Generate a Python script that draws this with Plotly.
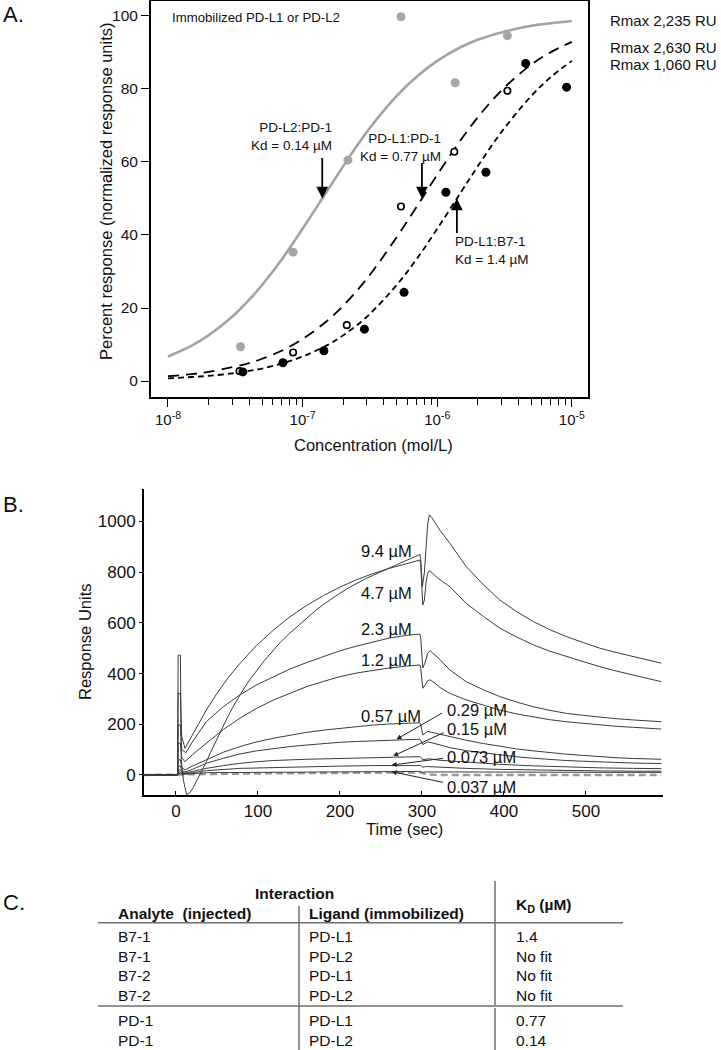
import math
import plotly.graph_objects as go

W, H = 721, 1050
FONT = "Liberation Sans, Arial, Helvetica, sans-serif"
INK = "#111111"

# ---------------- Panel A data ----------------
curve_conc = [1e-8, 1.5e-8, 2e-8, 3e-8, 4e-8, 5e-8, 7e-8, 1e-7, 1.5e-7, 2e-7, 3e-7, 5e-7, 7e-7,
              1e-6, 1.5e-6, 2e-6, 3e-6, 5e-6, 7e-6, 1e-5]
fit_pdl2_pd1 = [6.7, 9.7, 12.5, 17.6, 22.2, 26.3, 33.3, 41.7, 51.7, 58.8, 68.2, 78.1, 83.3,
                87.7, 91.5, 93.5, 95.5, 97.3, 98.0, 98.6]
fit_pdl1_pd1 = [1.3, 1.9, 2.5, 3.8, 4.9, 6.1, 8.3, 11.5, 16.3, 20.6, 28.0, 39.4, 47.6,
                56.5, 66.1, 72.2, 79.6, 86.7, 90.1, 92.9]
fit_pdl1_b71 = [0.7, 1.1, 1.4, 2.1, 2.8, 3.4, 4.8, 6.7, 9.7, 12.5, 17.6, 26.3, 33.3,
                41.7, 51.7, 58.8, 68.2, 78.1, 83.3, 87.7]

pdl2_pd1_conc = [3.46e-8, 8.5e-8, 2.17e-7, 5.38e-7, 1.36e-6, 3.32e-6]
pdl2_pd1_resp = [9.4, 35.3, 60.5, 99.8, 81.7, 94.6]
pdl1_pd1_conc = [3.4e-8, 8.5e-8, 2.13e-7, 5.38e-7, 1.34e-6, 3.32e-6]
pdl1_pd1_resp = [2.7, 7.8, 15.3, 47.8, 62.8, 79.5]
pdl1_b71_conc = [3.6e-8, 7.15e-8, 1.44e-7, 2.88e-7, 5.67e-7, 1.16e-6, 2.3e-6, 4.54e-6, 9.14e-6]
pdl1_b71_resp = [2.5, 5.0, 8.3, 14.2, 24.3, 51.7, 57.2, 87.0, 80.5]

kd_names = ["PD-L2:PD-1", "PD-L1:PD-1", "PD-L1:B7-1"]
kd_um = [0.14, 0.77, 1.4]
rmax_labels = ["Rmax 2,235 RU", "Rmax 2,630 RU", "Rmax 1,060 RU"]
x_tick_vals = [1e-8, 1e-7, 1e-6, 1e-5]
x_tick_text = ["10<sup>-8</sup>", "10<sup>-7</sup>", "10<sup>-6</sup>", "10<sup>-5</sup>"]
y_tick_vals_a = [0, 20, 40, 60, 80, 100]

# ---------------- Panel B data (sensorgrams) ----------------
t_94 = [-39, 2, 2.6, 5.4, 6.5, 9, 13, 17, 21, 25, 29, 33, 37, 42, 47, 52, 58, 64, 70, 77, 84,
        91, 98, 108, 118, 128, 139, 150, 160, 170, 180, 190, 200, 210, 220, 230, 240, 250, 259,
        270, 280, 290, 297.5, 298.5, 300.5, 303, 305, 307, 309, 312, 316,
        322, 334, 354, 375, 395, 415, 436, 456, 476, 497, 517, 537, 558, 575, 592]
ru_94 = [0, 0, 473, 473, 60, -20, -78, -70, -50, -25, 2, 28, 52, 88, 122, 158, 197, 235, 271,
         310, 347, 380, 411, 452, 489, 526, 560, 592, 621, 648, 673, 696, 717, 737, 755, 772,
         787, 801, 814, 830, 845, 859, 870, 850, 743, 800, 900, 990, 1026, 1015, 995,
         965, 914, 822, 750, 690, 645, 605, 573, 546, 522, 500, 483, 467, 452, 441]

t_47 = [-39, 2, 2.6, 5.4, 7, 11, 17, 24, 37, 50, 64, 78, 98, 119, 139, 159, 180, 200, 220,
        241, 259, 280, 297.5, 298.5, 301, 303, 305, 307, 309, 313, 320, 334, 354, 375, 395,
        415, 436, 456, 476, 497, 517, 537, 558, 575, 592]
ru_47 = [0, 0, 322, 322, 150, 105, 140, 180, 256, 322, 385, 440, 510, 572, 624, 668, 708, 741, 770,
         795, 814, 832, 848, 830, 670, 690, 760, 795, 806, 795, 775, 743, 677, 625, 579,
         545, 513, 488, 467, 446, 427, 410, 394, 380, 368]

t_23 = [-39, 2, 2.6, 5.4, 7, 12, 20, 37, 58, 78, 98, 119, 139, 159, 180, 200, 220, 241, 260,
        280, 297.5, 298.5, 301, 304, 307, 310, 315, 322, 334, 354, 375, 395, 415, 436, 456,
        476, 497, 517, 537, 558, 575, 592]
ru_23 = [0, 0, 197, 197, 100, 88, 130, 210, 270, 316, 355, 388, 418, 443, 468, 490, 508, 526, 540,
         550, 556, 540, 422, 445, 480, 490, 475, 455, 414, 368, 336, 309, 288, 269, 255,
         243, 235, 228, 222, 217, 213, 210]

t_12 = [-39, 2, 2.6, 5.4, 7, 11, 20, 37, 58, 78, 98, 119, 139, 159, 180, 200, 220, 241, 260,
        280, 297.5, 298.5, 301, 304, 307, 310, 316, 322, 334, 354, 375, 395, 415, 436, 456,
        476, 497, 517, 537, 558, 575, 592]
ru_12 = [0, 0, 125, 125, 70, 52, 80, 125, 180, 224, 262, 296, 323, 348, 369, 388, 402, 414, 422,
         429, 434, 420, 342, 355, 372, 375, 362, 345, 322, 296, 274, 256, 241, 228, 218,
         210, 203, 197, 192, 188, 184, 181]

t_057 = [-39, 2, 2.6, 5.4, 7, 11, 20, 37, 58, 78, 98, 119, 139, 159, 180, 200, 220, 241, 260,
         280, 297.5, 298.5, 301, 304, 307, 312, 322, 334, 354, 375, 395, 415, 436, 456, 476,
         497, 517, 537, 558, 575, 592]
ru_057 = [0, 0, 60, 60, 30, 20, 35, 59, 90, 112, 130, 145, 158, 168, 177, 184, 190, 197, 201,
          204, 206, 200, 158, 165, 172, 168, 160, 151, 137, 124, 112, 103, 95, 88, 82,
          77, 72, 68, 65, 63, 62]

t_029 = [-39, 2, 2.6, 5.4, 7, 11, 20, 37, 58, 78, 98, 119, 139, 159, 180, 200, 220, 241, 260,
         280, 297.5, 298.5, 301, 304, 307, 312, 322, 334, 354, 375, 395, 415, 436, 456, 476,
         497, 517, 537, 558, 575, 592]
ru_029 = [0, 0, 35, 35, 18, 12, 22, 46, 66, 83, 95, 105, 112, 118, 124, 129, 132, 135, 138,
          140, 141, 137, 120, 125, 130, 127, 118, 108, 96, 87, 79, 72, 66, 61, 57,
          54, 51, 49, 47, 46, 45]

t_015 = [-39, 2, 2.6, 5.4, 7, 11, 20, 37, 58, 78, 98, 119, 159, 200, 241, 280, 297.5, 298.5,
         301, 304, 308, 322, 354, 395, 436, 476, 517, 558, 592]
ru_015 = [0, 0, 20, 20, 10, 8, 14, 26, 37, 46, 52, 57, 62, 66, 69, 71, 72, 70,
          60, 63, 64, 58, 50, 42, 36, 31, 28, 26, 25]

t_0073 = [-39, 2, 2.6, 5.4, 7, 11, 20, 37, 78, 119, 159, 200, 241, 280, 297.5, 298.5, 301, 304,
          308, 322, 354, 395, 436, 476, 517, 558, 592]
ru_0073 = [0, 0, 12, 12, 6, 5, 9, 17, 26, 30, 33, 35, 37, 38, 39, 37, 30, 33,
           33, 30, 26, 22, 19, 17, 16, 15, 15]

t_0037 = [-39, 2, 2.6, 5.4, 7, 11, 37, 119, 200, 280, 297.5, 298.5, 301, 304, 322, 395, 476, 558, 592]
ru_0037 = [0, 0, 6, 6, 3, 3, 9, 11, 13, 15, 16, 14, 10, 12, 12, 11, 10, 10, 10]

t_ctrl = [-39, 5, 20, 100, 200, 280, 297, 301, 307, 320, 400, 500, 592]
ru_ctrl = [0, 2, 4, 6, 8, 9, 10, 7, 2, 0, 0, 0, 0]

conc_labels = ["9.4 µM", "4.7 µM", "2.3 µM", "1.2 µM", "0.57 µM",
               "0.29 µM", "0.15 µM", "0.073 µM", "0.037 µM"]
x_ticks_b = [0, 100, 200, 300, 400, 500]
y_ticks_b = [0, 200, 400, 600, 800, 1000]

# ---------------- Panel C table ----------------
table_analyte = ["B7-1", "B7-1", "B7-2", "B7-2", "PD-1", "PD-1"]
table_ligand = ["PD-L1", "PD-L2", "PD-L1", "PD-L2", "PD-L1", "PD-L2"]
table_kd = ["1.4", "No fit", "No fit", "No fit", "0.77", "0.14"]


def pxx(x):
    return x / W


def pxy(y):
    return 1 - y / H


fig = go.Figure()

# Panel A traces
fig.add_trace(go.Scatter(x=curve_conc, y=fit_pdl2_pd1, mode="lines", line_shape="spline",
                         line=dict(color="#a3a3a3", width=2.6), xaxis="x", yaxis="y"))
fig.add_trace(go.Scatter(x=curve_conc, y=fit_pdl1_pd1, mode="lines", line_shape="spline",
                         line=dict(color="black", width=1.8, dash="11px,7px"), xaxis="x", yaxis="y"))
fig.add_trace(go.Scatter(x=curve_conc, y=fit_pdl1_b71, mode="lines", line_shape="spline",
                         line=dict(color="black", width=1.8, dash="6px,4px"), xaxis="x", yaxis="y"))
fig.add_trace(go.Scatter(x=pdl2_pd1_conc, y=pdl2_pd1_resp, mode="markers",
                         marker=dict(color="#a6a6a6", size=9), xaxis="x", yaxis="y"))
fig.add_trace(go.Scatter(x=pdl1_pd1_conc, y=pdl1_pd1_resp, mode="markers",
                         marker=dict(color="white", size=6.5, line=dict(color="black", width=1.6)),
                         xaxis="x", yaxis="y"))
fig.add_trace(go.Scatter(x=pdl1_b71_conc, y=pdl1_b71_resp, mode="markers",
                         marker=dict(color="black", size=9), xaxis="x", yaxis="y"))

# Panel B traces
series_b = [(t_94, ru_94), (t_47, ru_47), (t_23, ru_23), (t_12, ru_12), (t_057, ru_057),
            (t_029, ru_029), (t_015, ru_015), (t_0073, ru_0073), (t_0037, ru_0037)]
fig.add_trace(go.Scatter(x=t_ctrl, y=ru_ctrl, mode="lines",
                         line=dict(color="#9a9a9a", width=2.4, dash="7px,4px"),
                         xaxis="x2", yaxis="y2"))
for tt, rr in series_b:
    fig.add_trace(go.Scatter(x=tt, y=rr, mode="lines", line=dict(color="#3c3c3c", width=1),
                             xaxis="x2", yaxis="y2"))

ann = []
shapes = []

# Panel letters
for letter, yy in [("A.", 15), ("B.", 504), ("C.", 902)]:
    ann.append(dict(text=letter, x=pxx(1), y=pxy(yy), xref="paper", yref="paper",
                    xanchor="left", yanchor="middle", showarrow=False,
                    font=dict(size=22, color=INK, family=FONT)))

# Panel A texts
ann.append(dict(text="Immobilized PD-L1 or PD-L2", x=pxx(170), y=pxy(17), xref="paper", yref="paper",
                xanchor="left", yanchor="middle", showarrow=False,
                font=dict(size=13.2, color=INK, family=FONT)))
label_pos = [(334, 137, "right"), (443, 147, "right"), (453, 250, "left")]
tails = [-42, -37, 36]
for name, kd, (lx, ly, anc), tail in zip(kd_names, kd_um, label_pos, tails):
    ann.append(dict(text=f"{name}<br>Kd = {kd} µM", x=pxx(lx), y=pxy(ly), xref="paper", yref="paper",
                    xanchor=anc, yanchor="middle", align=anc, showarrow=False,
                    font=dict(size=13.5, color=INK, family=FONT)))
    ann.append(dict(text="", x=math.log10(kd * 1e-6), y=50, xref="x", yref="y",
                    showarrow=True, ax=0, ay=tail, arrowhead=2, arrowsize=1.3,
                    arrowwidth=1.8, arrowcolor="black", standoff=0))
for lab, yy in zip(rmax_labels, [20, 47, 64]):
    ann.append(dict(text=lab, x=pxx(608), y=pxy(yy), xref="paper", yref="paper",
                    xanchor="left", yanchor="middle", showarrow=False,
                    font=dict(size=15, color=INK, family=FONT)))
ann.append(dict(text="Concentration (mol/L)", x=pxx(373), y=pxy(445), xref="paper", yref="paper",
                xanchor="center", yanchor="middle", showarrow=False,
                font=dict(size=16.5, color=INK, family=FONT)))
ann.append(dict(text="Percent response (normalized response units)", x=pxx(106), y=pxy(191),
                xref="paper", yref="paper", textangle=-90, xanchor="center", yanchor="middle",
                showarrow=False, font=dict(size=16.5, color=INK, family=FONT)))

# Panel B texts
left_labels = [(550.7, 0), (592.7, 1), (629, 2), (660, 3), (715.7, 4)]
for yy, i in left_labels:
    ann.append(dict(text=conc_labels[i], x=pxx(358.6), y=pxy(yy), xref="paper", yref="paper",
                    xanchor="left", yanchor="middle", showarrow=False,
                    font=dict(size=16.5, color=INK, family=FONT)))
right_labels = [(710, 5), (729.3, 6), (757.3, 7), (786.7, 8)]
for yy, i in right_labels:
    ann.append(dict(text=conc_labels[i], x=pxx(445), y=pxy(yy), xref="paper", yref="paper",
                    xanchor="left", yanchor="middle", showarrow=False,
                    font=dict(size=16.5, color=INK, family=FONT)))
arrows_b = [(269, 141, 47, -27), (265, 75, 52, -24), (263, 39, 53, -7), (263, 13, 53, 11)]
for hx, hy, dx, dy in arrows_b:
    ann.append(dict(text="", x=hx, y=hy, xref="x2", yref="y2", showarrow=True,
                    ax=dx, ay=dy, arrowhead=2, arrowsize=1.0, arrowwidth=1,
                    arrowcolor="#222", standoff=0))
ann.append(dict(text="Response Units", x=pxx(85), y=pxy(642), xref="paper", yref="paper",
                textangle=-90, xanchor="center", yanchor="middle", showarrow=False,
                font=dict(size=16.5, color=INK, family=FONT)))
ann.append(dict(text="Time (sec)", x=pxx(404), y=pxy(829), xref="paper", yref="paper",
                xanchor="center", yanchor="middle", showarrow=False,
                font=dict(size=16.5, color=INK, family=FONT)))

# Panel C table
tfont = dict(size=15.5, color=INK, family=FONT)
ann.append(dict(text="<b>Interaction</b>", x=pxx(294), y=pxy(893), xref="paper", yref="paper",
                xanchor="center", yanchor="middle", showarrow=False, font=tfont))
ann.append(dict(text="<b>Analyte\u00a0 (injected)</b>", x=pxx(116), y=pxy(913), xref="paper",
                yref="paper", xanchor="left", yanchor="middle", showarrow=False, font=tfont))
ann.append(dict(text="<b>Ligand (immobilized)</b>", x=pxx(307), y=pxy(913), xref="paper",
                yref="paper", xanchor="left", yanchor="middle", showarrow=False, font=tfont))
ann.append(dict(text="<b>K<sub>D</sub> (µM)</b>", x=pxx(514), y=pxy(905), xref="paper",
                yref="paper", xanchor="left", yanchor="middle", showarrow=False, font=tfont))
row_y = [936, 956, 975.7, 995.7, 1020, 1040.7]
for a, l, k, yy in zip(table_analyte, table_ligand, table_kd, row_y):
    for txt, xx in [(a, 116), (l, 307), (k, 514)]:
        ann.append(dict(text=txt, x=pxx(xx), y=pxy(yy), xref="paper", yref="paper",
                        xanchor="left", yanchor="middle", showarrow=False, font=tfont))

line_style = dict(color="#6e6e6e", width=1.5)
for yy in [922.7, 1006]:
    shapes.append(dict(type="line", xref="paper", yref="paper", x0=pxx(98), x1=pxx(623),
                       y0=pxy(yy), y1=pxy(yy), line=line_style))
shapes.append(dict(type="line", xref="paper", yref="paper", x0=pxx(299), x1=pxx(299),
                   y0=pxy(906), y1=pxy(1050), line=line_style))
shapes.append(dict(type="line", xref="paper", yref="paper", x0=pxx(495), x1=pxx(495),
                   y0=pxy(881), y1=pxy(1005), line=line_style))
shapes.append(dict(type="line", xref="paper", yref="paper", x0=pxx(495), x1=pxx(495),
                   y0=pxy(1008), y1=pxy(1050), line=line_style))

fig.update_layout(
    width=W, height=H, margin=dict(l=0, r=0, t=0, b=0),
    paper_bgcolor="white", plot_bgcolor="white", showlegend=False,
    font=dict(family=FONT, color=INK),
    annotations=ann, shapes=shapes,
    xaxis=dict(domain=[pxx(151), pxx(588)], anchor="y", type="log", range=[-8.126, -4.88],
               tickvals=x_tick_vals, ticktext=x_tick_text, ticks="outside", ticklen=8,
               tickwidth=1.2, tickcolor="black", showline=True, linewidth=2, linecolor="black",
               mirror=True, showgrid=False, zeroline=False,
               tickfont=dict(size=15, color=INK, family=FONT),
               minor=dict(tickvals=[m * 10 ** e for e in (-8, -7, -6) for m in range(2, 10)],
                          ticks="outside", ticklen=6, tickwidth=1.2, tickcolor="black",
                          showgrid=False)),
    yaxis=dict(domain=[pxy(397), pxy(1)], anchor="x", range=[-4.38, 104.1],
               tickvals=y_tick_vals_a, ticks="outside", ticklen=8, tickwidth=1.2,
               tickcolor="black", showline=True, linewidth=2, linecolor="black", mirror=True,
               showgrid=False, zeroline=False, tickfont=dict(size=15.5, color=INK, family=FONT)),
    xaxis2=dict(domain=[pxx(144), pxx(663)], anchor="y2", range=[-39, 594],
                tickvals=x_ticks_b, ticks="inside", ticklen=4, tickwidth=1, tickcolor="black",
                showline=True, linewidth=2, linecolor="black", showgrid=False, zeroline=False,
                tickfont=dict(size=17, color=INK, family=FONT)),
    yaxis2=dict(domain=[pxy(795), pxy(489)], anchor="x2", range=[-79, 1128],
                tickvals=y_ticks_b, ticks="outside", ticklen=3, tickwidth=1, tickcolor="black",
                showline=True, linewidth=2, linecolor="black", showgrid=False, zeroline=False,
                tickfont=dict(size=17, color=INK, family=FONT)),
)

fig.write_html(
    "out.html",
    config={"displayModeBar": False},
    post_script="document.body.style.margin='0';document.body.style.overflow='hidden';",
)
